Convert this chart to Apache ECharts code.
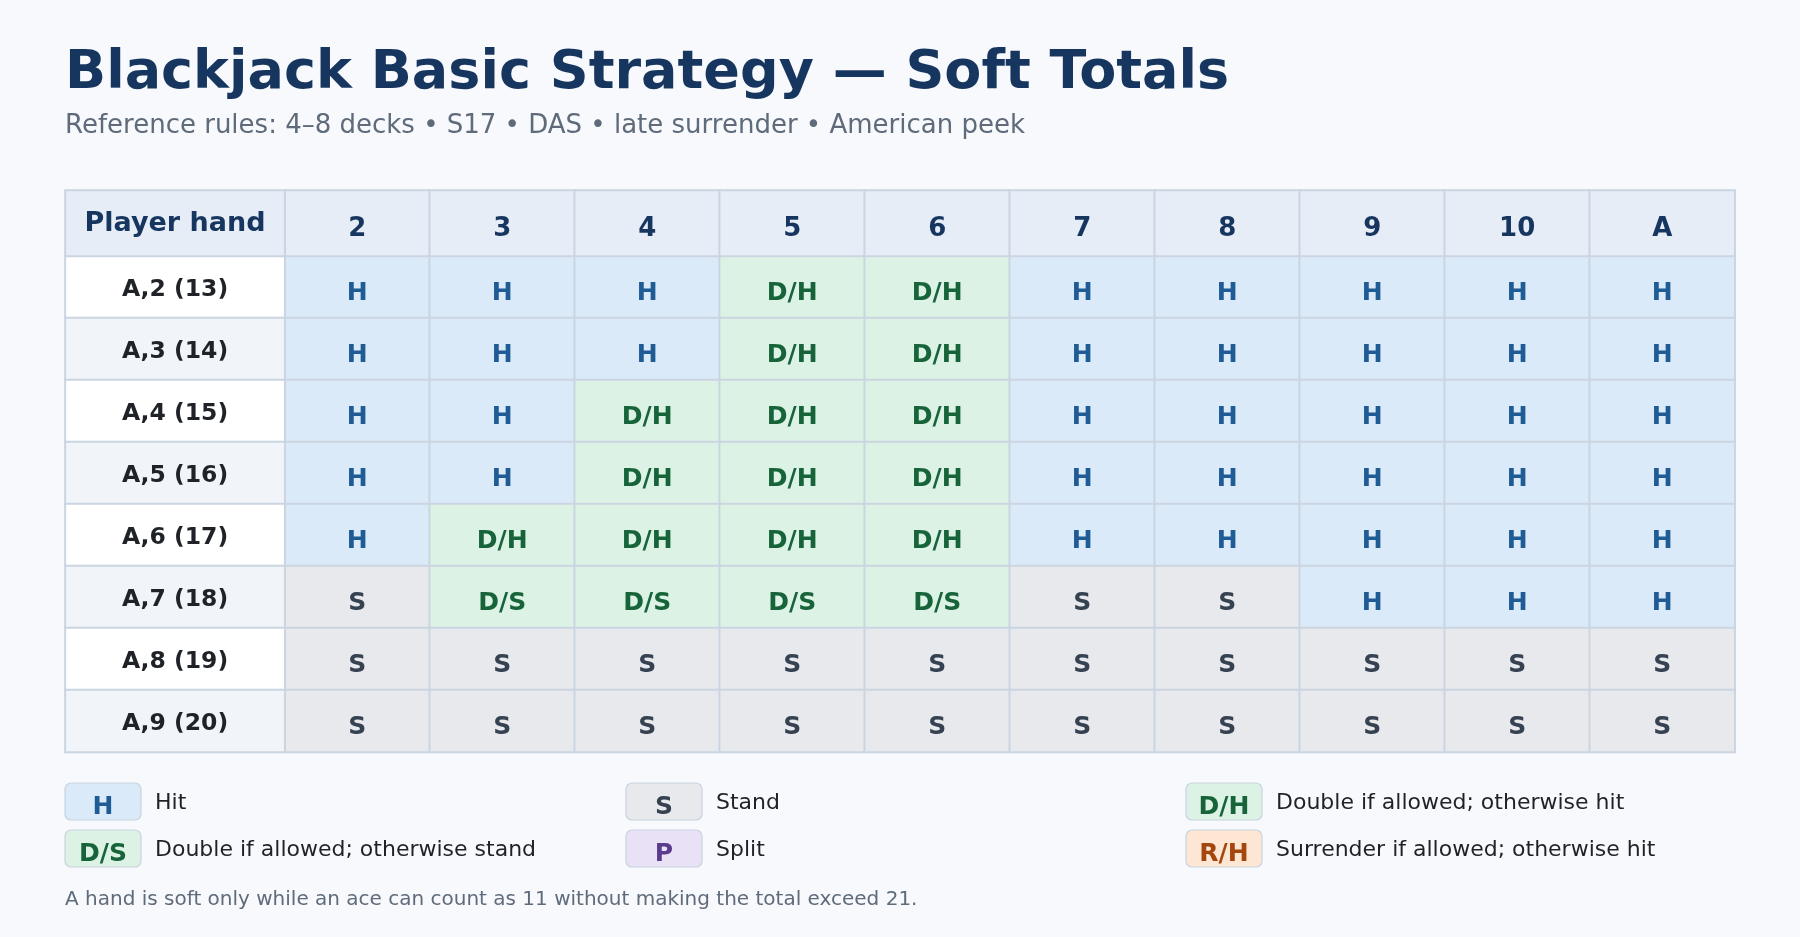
<!doctype html>
<html>
    <head>
        <meta charset="UTF-8">
        <title>Blackjack Basic Strategy — Soft Totals</title>
        <style>
            html, body { margin: 0; padding: 0; background: #f7f9fc; }
            #main { width: 1800px; height: 937px; }
        </style>
    </head>
    <body>
        <div id="main"></div>
        <script src="https://cdn.jsdelivr.net/npm/echarts@6/dist/echarts.min.js"></script>
        <script type="text/javascript">
            // dealer up-cards across the top, player soft hands down the side
            var dealerCards = ['2', '3', '4', '5', '6', '7', '8', '9', '10', 'A'];
            var playerHands = ['A,2 (13)', 'A,3 (14)', 'A,4 (15)', 'A,5 (16)', 'A,6 (17)', 'A,7 (18)', 'A,8 (19)', 'A,9 (20)'];

            // one row of actions per player hand
            var rowA2 = ['H', 'H', 'H', 'D/H', 'D/H', 'H', 'H', 'H', 'H', 'H'];
            var rowA3 = ['H', 'H', 'H', 'D/H', 'D/H', 'H', 'H', 'H', 'H', 'H'];
            var rowA4 = ['H', 'H', 'D/H', 'D/H', 'D/H', 'H', 'H', 'H', 'H', 'H'];
            var rowA5 = ['H', 'H', 'D/H', 'D/H', 'D/H', 'H', 'H', 'H', 'H', 'H'];
            var rowA6 = ['H', 'D/H', 'D/H', 'D/H', 'D/H', 'H', 'H', 'H', 'H', 'H'];
            var rowA7 = ['S', 'D/S', 'D/S', 'D/S', 'D/S', 'S', 'S', 'H', 'H', 'H'];
            var rowA8 = ['S', 'S', 'S', 'S', 'S', 'S', 'S', 'S', 'S', 'S'];
            var rowA9 = ['S', 'S', 'S', 'S', 'S', 'S', 'S', 'S', 'S', 'S'];
            var actionRows = [rowA2, rowA3, rowA4, rowA5, rowA6, rowA7, rowA8, rowA9];

            // legend key
            var legendCodes = ['H', 'S', 'D/H', 'D/S', 'P', 'R/H'];
            var legendLabels = ['Hit', 'Stand', 'Double if allowed; otherwise hit',
                'Double if allowed; otherwise stand', 'Split', 'Surrender if allowed; otherwise hit'];

            var titleText = 'Blackjack Basic Strategy — Soft Totals';
            var subtitleText = 'Reference rules: 4–8 decks • S17 • DAS • late surrender • American peek';
            var footnoteText = 'A hand is soft only while an ace can count as 11 without making the total exceed 21.';

            // colours per action
            var actionStyle = {
                'H':   { bg: '#dbeaf8', fg: '#1f5b94' },
                'S':   { bg: '#e7e9ed', fg: '#364152' },
                'D/H': { bg: '#dcf2e4', fg: '#17643a' },
                'D/S': { bg: '#dcf2e4', fg: '#17643a' },
                'P':   { bg: '#e9e1f5', fg: '#5b3b8c' },
                'R/H': { bg: '#fde6d3', fg: '#a4470f' }
            };

            var FONT = '"DejaVu Sans", sans-serif';
            var BORDER = '#cbd5e1';

            // table geometry
            var tLeft = 65.4, tTop = 190.6, firstCol = 219.3, colW = 145, headH = 65.4, rowH = 62;
            var bodyLeft = tLeft + firstCol;
            var bodyTop = tTop + headH;

            var bodyData = [];
            actionRows.forEach(function (row, y) {
                row.forEach(function (code, x) {
                    bodyData.push({
                        value: [x, y, 1],
                        name: code,
                        itemStyle: { color: actionStyle[code].bg },
                        label: { color: actionStyle[code].fg }
                    });
                });
            });

            var headData = dealerCards.map(function (c, x) {
                return { value: [x, 0, 1], name: c };
            });

            var handData = playerHands.map(function (h, y) {
                return { value: [0, y, 1], name: h, itemStyle: { color: y % 2 ? '#f1f5fa' : '#ffffff' } };
            });

            function hiddenCat(data, inverse) {
                return {
                    type: 'category', data: data, inverse: !!inverse,
                    axisLine: { show: false }, axisTick: { show: false },
                    axisLabel: { show: false }, splitLine: { show: false }
                };
            }

            // legend drawn as small badges
            var graphics = [
                { type: 'text', left: 65, top: 47, style: { text: titleText, font: 'bold 54px ' + FONT, fill: '#17365f' } },
                { type: 'text', left: 65, top: 113, style: { text: subtitleText, font: '26px ' + FONT, fill: '#5f6b7a' } },
                { type: 'text', left: 65, top: 890, style: { text: footnoteText, font: '20px ' + FONT, fill: '#5f6b7a' } }
            ];
            var legendX = [65, 626, 1186];
            var legendY = [783, 830];
            legendCodes.forEach(function (code, i) {
                var bx = legendX[i % 3], by = legendY[Math.floor(i / 3)];
                graphics.push({
                    type: 'rect',
                    shape: { x: bx, y: by, width: 76, height: 37, r: 6 },
                    style: { fill: actionStyle[code].bg, stroke: '#c9d3df', lineWidth: 1.2 }
                });
                graphics.push({
                    type: 'text', x: bx + 38, y: by + 24,
                    style: { text: code, font: 'bold 25px ' + FONT, fill: actionStyle[code].fg, align: 'center', verticalAlign: 'middle' }
                });
                graphics.push({
                    type: 'text', x: bx + 90, y: by + 20,
                    style: { text: legendLabels[i], font: '22px ' + FONT, fill: '#1f2328', align: 'left', verticalAlign: 'middle' }
                });
            });

            var myChart = echarts.init(document.getElementById('main'));

            var option = {
                backgroundColor: '#f7f9fc',
                animation: false,
                grid: [
                    { left: bodyLeft, top: bodyTop, width: colW * 10, height: rowH * 8 },
                    { left: bodyLeft, top: tTop, width: colW * 10, height: headH },
                    { left: tLeft, top: bodyTop, width: firstCol, height: rowH * 8 },
                    { left: tLeft, top: tTop, width: firstCol, height: headH }
                ],
                xAxis: [
                    Object.assign(hiddenCat(dealerCards), { gridIndex: 0 }),
                    Object.assign(hiddenCat(dealerCards), { gridIndex: 1 }),
                    Object.assign(hiddenCat(['hand']), { gridIndex: 2 }),
                    Object.assign(hiddenCat(['corner']), { gridIndex: 3 })
                ],
                yAxis: [
                    Object.assign(hiddenCat(playerHands, true), { gridIndex: 0 }),
                    Object.assign(hiddenCat(['dealer']), { gridIndex: 1 }),
                    Object.assign(hiddenCat(playerHands, true), { gridIndex: 2 }),
                    Object.assign(hiddenCat(['corner']), { gridIndex: 3 })
                ],
                series: [
                    {
                        name: 'actions', type: 'heatmap', xAxisIndex: 0, yAxisIndex: 0,
                        data: bodyData,
                        itemStyle: { borderColor: BORDER, borderWidth: 2 },
                        label: {
                            show: true, formatter: function (p) { return p.name; },
                            fontFamily: FONT, fontWeight: 'bold', fontSize: 25, offset: [0, 6]
                        },
                        emphasis: { disabled: true }
                    },
                    {
                        name: 'dealer', type: 'heatmap', xAxisIndex: 1, yAxisIndex: 1,
                        data: headData,
                        itemStyle: { color: '#e6edf7', borderColor: BORDER, borderWidth: 2 },
                        label: {
                            show: true, formatter: function (p) { return p.name; },
                            fontFamily: FONT, fontWeight: 'bold', fontSize: 26, color: '#17365f', offset: [0, 6]
                        },
                        emphasis: { disabled: true }
                    },
                    {
                        name: 'hands', type: 'heatmap', xAxisIndex: 2, yAxisIndex: 2,
                        data: handData,
                        itemStyle: { borderColor: BORDER, borderWidth: 2 },
                        label: {
                            show: true, formatter: function (p) { return p.name; },
                            fontFamily: FONT, fontWeight: 'bold', fontSize: 23.5, color: '#1f2328', offset: [0, 3]
                        },
                        emphasis: { disabled: true }
                    },
                    {
                        name: 'corner', type: 'heatmap', xAxisIndex: 3, yAxisIndex: 3,
                        data: [{ value: [0, 0, 1], name: 'Player hand' }],
                        itemStyle: { color: '#e6edf7', borderColor: BORDER, borderWidth: 2 },
                        label: {
                            show: true, formatter: function (p) { return p.name; },
                            fontFamily: FONT, fontWeight: 'bold', fontSize: 27, color: '#17365f', offset: [0, 1]
                        },
                        emphasis: { disabled: true }
                    }
                ],
                graphic: graphics
            };

            myChart.setOption(option);
        </script>
    </body>
</html>
